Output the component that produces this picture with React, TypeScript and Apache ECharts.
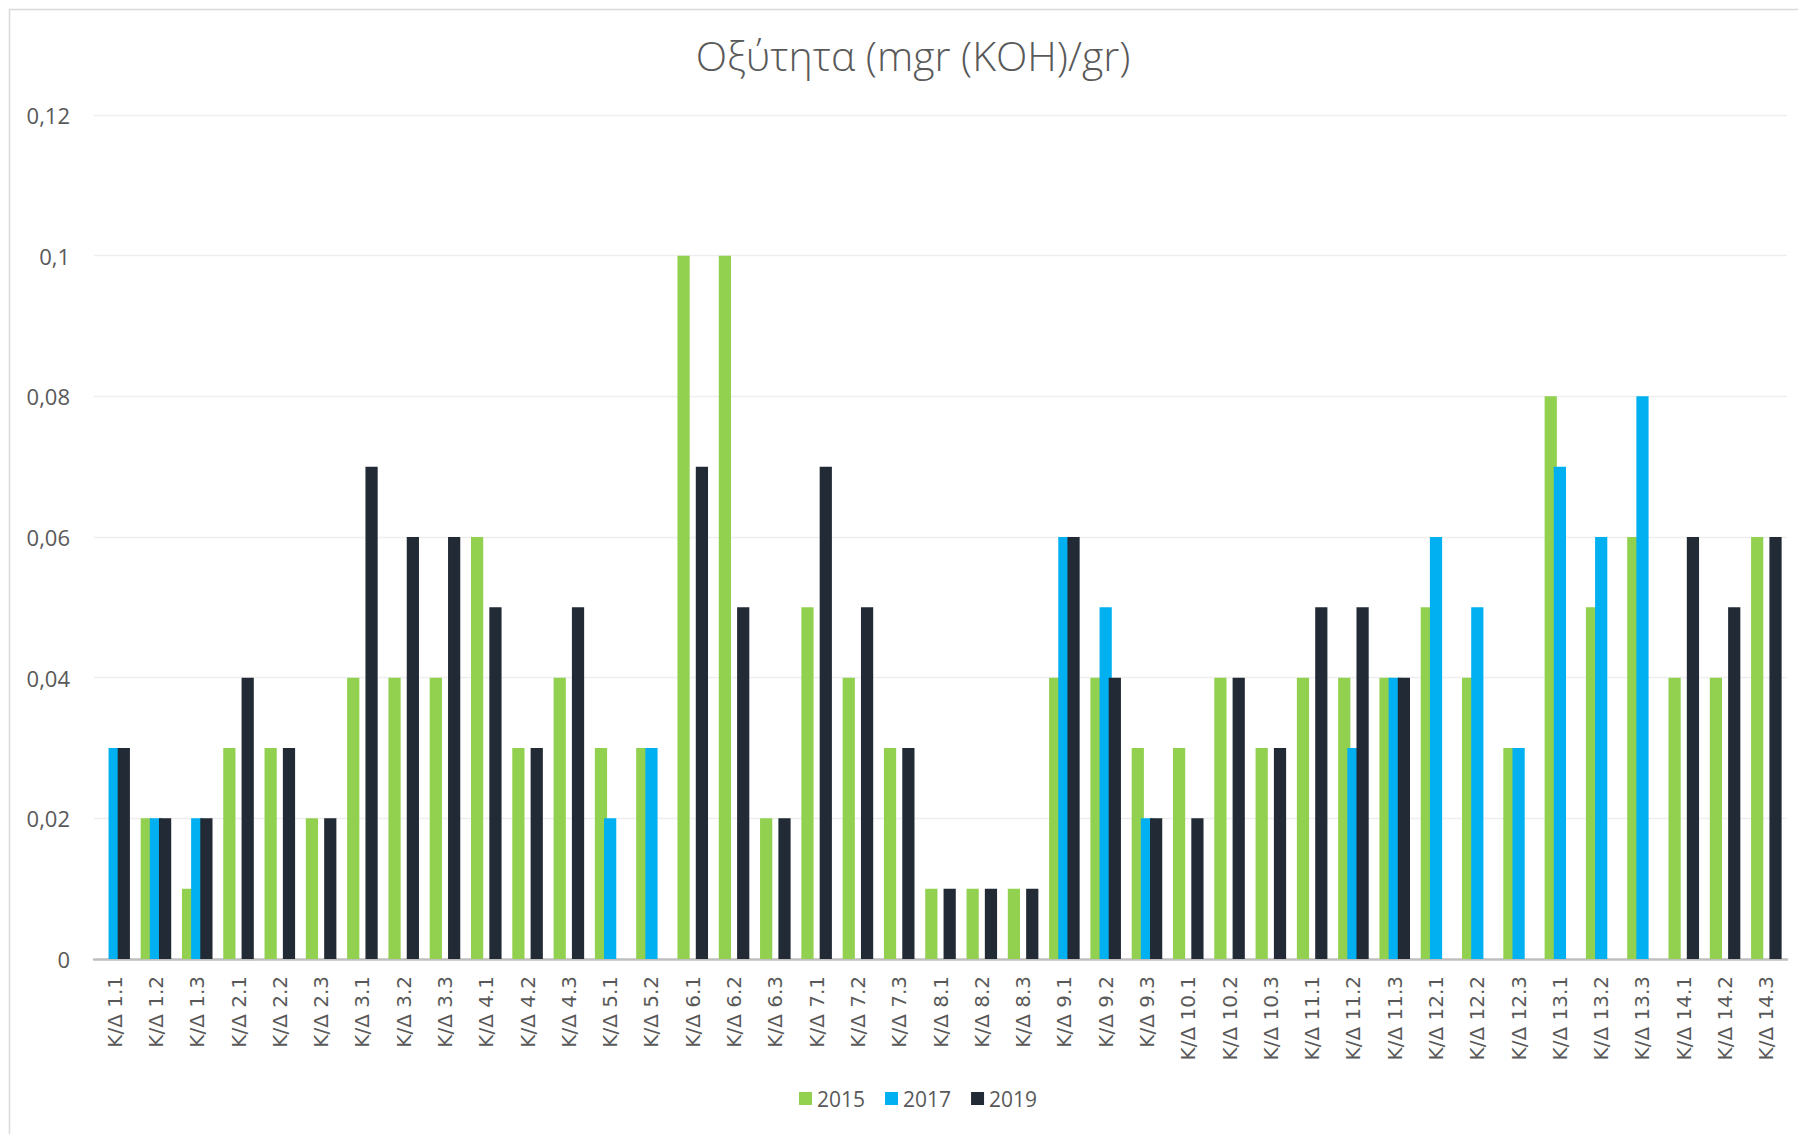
import React, { useEffect, useRef } from "react";
import * as echarts from "echarts";

const categories = [
  "K/Δ 1.1", "K/Δ 1.2", "K/Δ 1.3",
  "K/Δ 2.1", "K/Δ 2.2", "K/Δ 2.3",
  "K/Δ 3.1", "K/Δ 3.2", "K/Δ 3.3",
  "K/Δ 4.1", "K/Δ 4.2", "K/Δ 4.3",
  "K/Δ 5.1", "K/Δ 5.2",
  "K/Δ 6.1", "K/Δ 6.2", "K/Δ 6.3",
  "K/Δ 7.1", "K/Δ 7.2", "K/Δ 7.3",
  "K/Δ 8.1", "K/Δ 8.2", "K/Δ 8.3",
  "K/Δ 9.1", "K/Δ 9.2", "K/Δ 9.3",
  "K/Δ 10.1", "K/Δ 10.2", "K/Δ 10.3",
  "K/Δ 11.1", "K/Δ 11.2", "K/Δ 11.3",
  "K/Δ 12.1", "K/Δ 12.2", "K/Δ 12.3",
  "K/Δ 13.1", "K/Δ 13.2", "K/Δ 13.3",
  "K/Δ 14.1", "K/Δ 14.2", "K/Δ 14.3",
];

const values2015 = [
  null, 0.02, 0.01,
  0.03, 0.03, 0.02,
  0.04, 0.04, 0.04,
  0.06, 0.03, 0.04,
  0.03, 0.03,
  0.1, 0.1, 0.02,
  0.05, 0.04, 0.03,
  0.01, 0.01, 0.01,
  0.04, 0.04, 0.03,
  0.03, 0.04, 0.03,
  0.04, 0.04, 0.04,
  0.05, 0.04, 0.03,
  0.08, 0.05, 0.06,
  0.04, 0.04, 0.06,
];

const values2017 = [
  0.03, 0.02, 0.02,
  null, null, null,
  null, null, null,
  null, null, null,
  0.02, 0.03,
  null, null, null,
  null, null, null,
  null, null, null,
  0.06, 0.05, 0.02,
  null, null, null,
  null, 0.03, 0.04,
  0.06, 0.05, 0.03,
  0.07, 0.06, 0.08,
  null, null, null,
];

const values2019 = [
  0.03, 0.02, 0.02,
  0.04, 0.03, 0.02,
  0.07, 0.06, 0.06,
  0.05, 0.03, 0.05,
  null, null,
  0.07, 0.05, 0.02,
  0.07, 0.05, 0.03,
  0.01, 0.01, 0.01,
  0.06, 0.04, 0.02,
  0.02, 0.04, 0.03,
  0.05, 0.05, 0.04,
  null, null, null,
  null, null, null,
  0.06, 0.05, 0.06,
];

const seriesNames = ["2015", "2017", "2019"];
const seriesColors = ["#92D050", "#00B0F0", "#222A35"];
const titleText = "Οξύτητα (mgr (KOH)/gr)";

export default function App() {
  const ref = useRef<HTMLDivElement>(null);

  useEffect(() => {
    if (!ref.current) return;
    const chart = echarts.init(ref.current, undefined, { renderer: "svg" });
    const dataSets = [values2015, values2017, values2019];
    const option: any = {
      animation: false,
      backgroundColor: "#FFFFFF",
      graphic: [
        {
          type: "rect",
          shape: { x: 9.5, y: 9.5, width: 1900, height: 1300 },
          style: { fill: "none", stroke: "#D9D9D9", lineWidth: 1.5 },
          silent: true,
          z: -10,
        },
        {
          type: "text",
          x: 913,
          y: 55,
          style: {
            text: titleText,
            fill: "#595959",
            font: "300 41px 'Open Sans'",
            align: "center",
            verticalAlign: "middle",
          },
        },
      ],
      grid: { left: 94, right: 11, top: 115, bottom: 175, containLabel: false },
      legend: {
        data: seriesNames,
        bottom: 20,
        left: 794,
        itemWidth: 13,
        itemHeight: 13,
        itemGap: 20,
        icon: "rect",
        textStyle: { color: "#595959", fontSize: 21, fontFamily: "Open Sans" },
      },
      xAxis: {
        type: "category",
        data: categories,
        axisLine: { show: true, lineStyle: { color: "#BFBFBF", width: 2.5 } },
        axisTick: { show: false },
        axisLabel: {
          rotate: 90,
          interval: 0,
          margin: 17,
          color: "#595959",
          fontSize: 20,
          fontFamily: "DejaVu Sans",
        },
      },
      yAxis: {
        type: "value",
        min: 0,
        max: 0.12,
        interval: 0.02,
        axisLine: { show: false },
        axisTick: { show: false },
        splitLine: { lineStyle: { color: "#EEEEEE", width: 1.3 } },
        axisLabel: {
          margin: 24,
          color: "#595959",
          fontSize: 22,
          fontFamily: "Open Sans",
          formatter: (v: number) => String(parseFloat(v.toFixed(4))).replace(".", ","),
        },
      },
      series: seriesNames.map((name, i) => ({
        name,
        type: "bar",
        data: dataSets[i],
        barWidth: "29.6%",
        barGap: "-25%",
        itemStyle: { color: seriesColors[i] },
      })),
    };
    chart.setOption(option);
    return () => chart.dispose();
  }, []);

  return (
    <div
      ref={ref}
      style={{ position: "fixed", left: 0, top: 0, width: 1798, height: 1134 }}
    />
  );
}
